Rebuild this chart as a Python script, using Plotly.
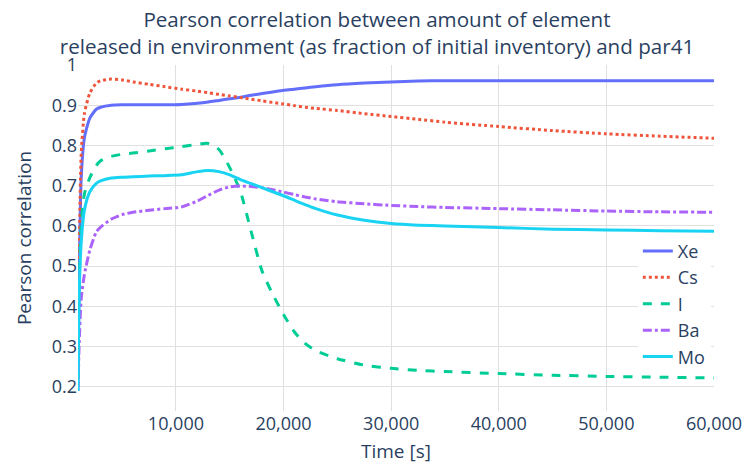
import plotly.graph_objects as go

time_s = [900, 1000, 1200, 1500, 2000, 2600, 3000, 4000, 5000, 6000, 7500, 9000,
          10500, 12000, 13000, 14000, 15000, 16000, 17000, 18000, 19000, 20000,
          21000, 22000, 23000, 25000, 27500, 30000, 32500, 35000, 40000, 45000,
          50000, 55000, 60000]

xe = [0.20, 0.45, 0.72, 0.82, 0.868, 0.89, 0.895, 0.900, 0.901, 0.901, 0.901, 0.901,
      0.902, 0.905, 0.908, 0.912, 0.916, 0.920, 0.925, 0.929, 0.933, 0.937,
      0.940, 0.943, 0.946, 0.951, 0.955, 0.958, 0.960, 0.961, 0.961, 0.961,
      0.961, 0.961, 0.961]

cs = [0.22, 0.50, 0.78, 0.88, 0.930, 0.955, 0.961, 0.965, 0.963, 0.958, 0.952, 0.946,
      0.940, 0.935, 0.931, 0.927, 0.923, 0.919, 0.915, 0.911, 0.907, 0.903,
      0.899, 0.895, 0.892, 0.887, 0.879, 0.872, 0.865, 0.858, 0.847, 0.837,
      0.829, 0.823, 0.818]

iodine = [0.22, 0.45, 0.60, 0.68, 0.720, 0.750, 0.762, 0.773, 0.778, 0.781, 0.786, 0.792,
          0.797, 0.803, 0.805, 0.790, 0.745, 0.685, 0.585, 0.488, 0.430, 0.380,
          0.337, 0.308, 0.290, 0.270, 0.254, 0.246, 0.241, 0.238, 0.233, 0.229,
          0.226, 0.224, 0.222]

ba = [0.19, 0.30, 0.42, 0.48, 0.540, 0.585, 0.597, 0.617, 0.628, 0.634, 0.639, 0.643,
      0.647, 0.662, 0.676, 0.689, 0.697, 0.699, 0.698, 0.695, 0.690, 0.684,
      0.678, 0.672, 0.667, 0.660, 0.655, 0.651, 0.648, 0.646, 0.643, 0.640,
      0.637, 0.635, 0.634]

mo = [0.19, 0.42, 0.56, 0.64, 0.685, 0.706, 0.712, 0.719, 0.721, 0.722, 0.724, 0.725,
      0.727, 0.735, 0.738, 0.735, 0.727, 0.715, 0.705, 0.695, 0.685, 0.675,
      0.664, 0.653, 0.643, 0.627, 0.614, 0.606, 0.602, 0.600, 0.596, 0.592,
      0.590, 0.588, 0.587]

series = [
    ("Xe", xe, "#636efa", "solid"),
    ("Cs", cs, "#EF553B", "dot"),
    ("I", iodine, "#00cc96", "dash"),
    ("Ba", ba, "#ab63fa", "dashdot"),
    ("Mo", mo, "#19d3f3", "solid"),
]

fig = go.Figure()
for name, vals, color, dash in series:
    fig.add_trace(go.Scatter(
        x=time_s, y=vals, name=name, mode="lines",
        line=dict(color=color, dash=dash, width=3, shape="spline", smoothing=0.6),
    ))

fig.update_layout(
    width=754, height=470,
    template="plotly_white",
    font=dict(family="Open Sans", size=18, color="#2a3f5f"),
    title=dict(
        text="Pearson correlation between amount of element<br>released in environment (as fraction of initial inventory) and par41",
        x=0.5, xanchor="center", xref="container",
        y=0.943, yanchor="middle", yref="container",
        font=dict(size=20.6),
    ),
    margin=dict(l=78, r=34, t=65, b=55),
    legend=dict(x=0.995, xanchor="right", y=0.31, yanchor="middle",
                bgcolor="white", font=dict(size=18)),
    xaxis=dict(title=dict(text="Time [s]", font=dict(size=19), standoff=10),
               range=[900, 60000],
               gridcolor="#e0e0e0", zeroline=False, showline=False,
               tickvals=[10000, 20000, 30000, 40000, 50000, 60000],
               tickformat=","),
    yaxis=dict(title=dict(text="Pearson correlation", font=dict(size=19)),
               range=[0.14, 1.0],
               gridcolor="#e0e0e0", zeroline=False, showline=False,
               dtick=0.1),
)

fig.write_html("out.html")
